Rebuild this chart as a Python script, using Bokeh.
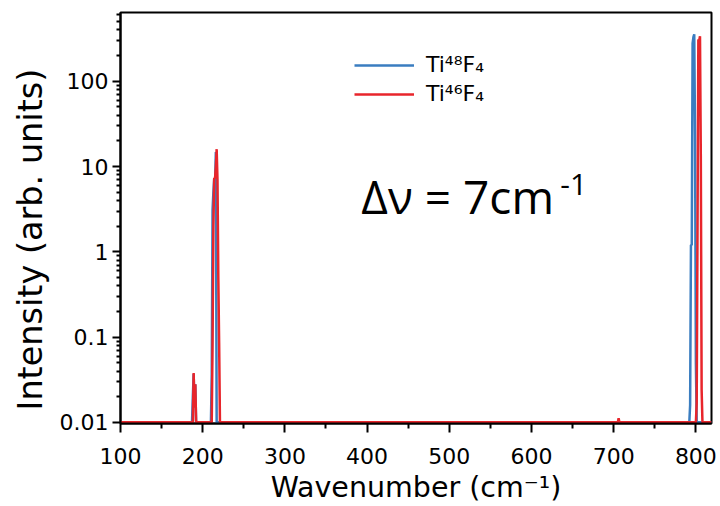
from bokeh.plotting import figure
from bokeh.models import (Range1d, FixedTicker, CustomJSTickFormatter, Label,
                          Legend, LegendItem, Title)
from bokeh.embed import file_html
from bokeh.resources import INLINE

# ---------------- data ----------------
ti48_wn = [100, 187, 188, 189, 190, 191, 192, 210, 211, 212, 213, 214, 215,
           216, 217, 792, 793, 794, 795, 796, 797, 798, 799, 800, 801, 819]
ti48_int = [0.01, 0.01, 0.02, 0.037, 0.015, 0.028, 0.01, 0.01, 0.035, 3.1,
            5.0, 7.2, 6.0, 14.8, 0.01, 0.01, 0.016, 1.2, 1.2, 278, 330, 355,
            23, 0.05, 0.01, 0.01]

ti46_wn = [100, 188, 189, 190, 191, 192, 211, 212, 213, 214, 215, 216, 217,
           218, 219, 220, 221, 705, 706, 707, 800, 801, 802, 803, 804, 805,
           806, 807, 808, 819]
ti46_int = [0.01, 0.01, 0.038, 0.015, 0.028, 0.01, 0.01, 0.087, 2.0, 7.3,
            7.3, 10.0, 16.0, 7.0, 0.5, 0.086, 0.01, 0.01, 0.0112, 0.01, 0.01,
            0.017, 2.0, 310, 300, 337, 13.2, 0.024, 0.01, 0.01]

x_major = [100, 200, 300, 400, 500, 600, 700, 800]
x_minor = [150, 250, 350, 450, 550, 650, 750]
y_major = [0.01, 0.1, 1, 10, 100]
y_minor = [m * d for d in [0.01, 0.1, 1, 10, 100] for m in range(2, 10)]

series_labels = ["Ti\u2074\u2078F\u2084", "Ti\u2074\u2076F\u2084"]
x_title = "Wavenumber (cm\u207b\u00b9)"
y_title = "Intensity (arb. units)"
annotation_main = "\u0394\u03bd = 7cm"
annotation_sup = "-1"

BLUE = "#3a7dc0"
RED = "#e8252b"
FONT = "DejaVu Sans"

p = figure(width=720, height=506, y_axis_type="log",
           x_range=Range1d(100, 819), y_range=Range1d(0.0097, 641),
           output_backend="svg", toolbar_location=None,
           min_border_left=120, min_border_right=9, min_border_top=12,
           min_border_bottom=83)
p.grid.visible = False
p.background_fill_color = "white"
p.border_fill_color = "white"
p.outline_line_color = "black"
p.outline_line_width = 2

r48 = p.line(ti48_wn, ti48_int, line_color=BLUE, line_width=2.5)
r46 = p.line(ti46_wn, ti46_int, line_color=RED, line_width=2.5)

# axes
xa = p.xaxis[0]
xa.ticker = FixedTicker(ticks=x_major, minor_ticks=x_minor)
ya = p.yaxis[0]
ya.ticker = FixedTicker(ticks=y_major, minor_ticks=y_minor)
ya.formatter = CustomJSTickFormatter(code="return String(tick);")

for ax in (xa, ya):
    ax.axis_line_color = "black"
    ax.axis_line_width = 2
    ax.major_tick_line_color = "black"
    ax.minor_tick_line_color = "black"
    ax.major_tick_line_width = 2
    ax.minor_tick_line_width = 2
    ax.major_tick_in = 0
    ax.minor_tick_in = 0
    ax.major_label_text_font = FONT
    ax.major_label_text_font_size = "22px"
    ax.major_label_text_color = "black"

xa.major_tick_out = 9
xa.minor_tick_out = 5
xa.major_label_standoff = 15
xa.major_label_text_line_height = 1.0
ya.major_tick_out = 8
ya.minor_tick_out = 4
ya.major_label_standoff = 4

# axis titles as side titles
p.add_layout(Title(text=x_title, align="center", text_font=FONT,
                   text_font_size="28.5px", text_font_style="normal",
                   text_color="black", standoff=4), "below")
p.add_layout(Title(text=y_title, align="left", text_font=FONT,
                   text_font_size="33.5px", text_font_style="normal",
                   text_color="black", standoff=13, offset=13), "left")

legend = Legend(items=[LegendItem(label=series_labels[0], renderers=[r48]),
                       LegendItem(label=series_labels[1], renderers=[r46])],
                location=(234, 317), padding=0, margin=0, spacing=4,
                glyph_width=60, glyph_height=24, label_standoff=12,
                label_text_font=FONT, label_text_font_size="22px",
                label_text_color="black",
                border_line_color=None, background_fill_alpha=0)
p.add_layout(legend)

p.add_layout(Label(x=393, y=4.52, text=annotation_main, text_font="Open Sans",
                   text_font_size="46px", text_baseline="middle",
                   text_color="black"))
p.add_layout(Label(x=635, y=6.24, text=annotation_sup, text_font="Open Sans",
                   text_font_size="30px", text_baseline="middle",
                   text_color="black"))

open("out.html", "w").write(file_html(p, INLINE))
